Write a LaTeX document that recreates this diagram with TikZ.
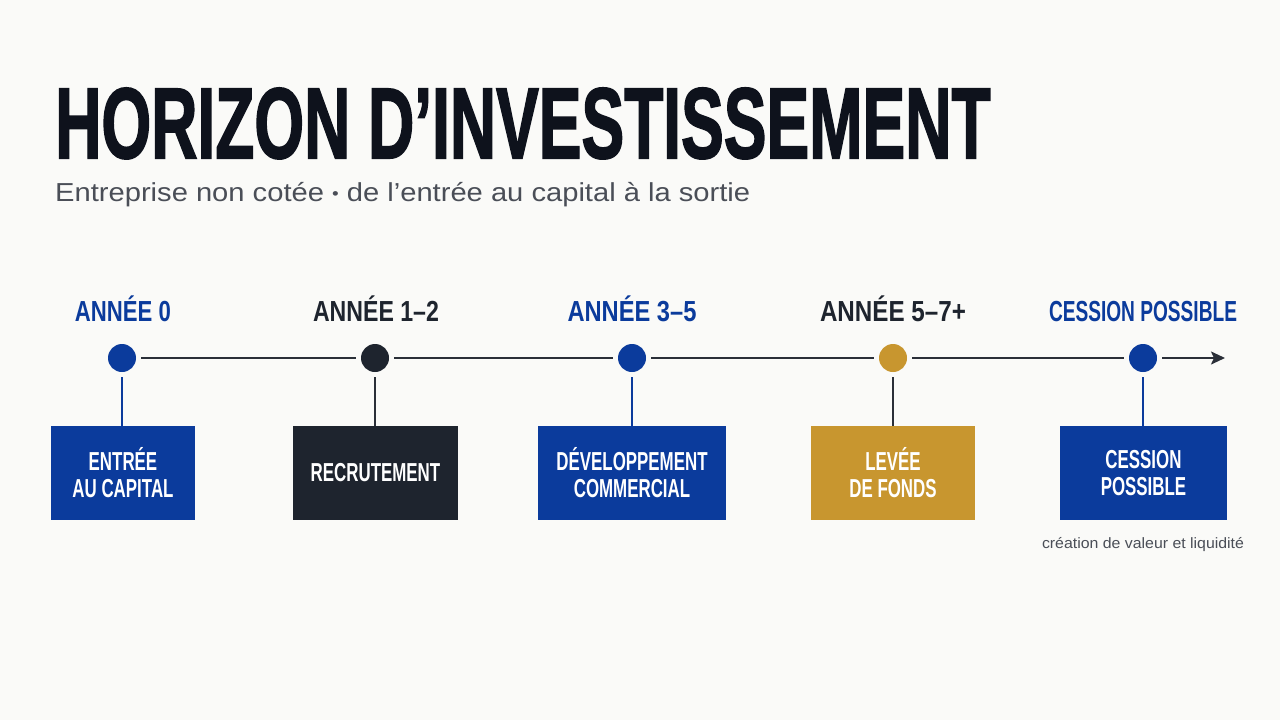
\documentclass[tikz,border=0pt]{standalone}
\usepackage{fontspec}
\usepackage{graphicx}
\usetikzlibrary{arrows.meta}
\setmainfont{Liberation Sans}
\newfontfamily\condfont[FakeStretch=0.65]{Liberation Sans}
\newfontfamily\titlefont[FakeBold=2]{Liberation Sans}
\definecolor{cblue}{HTML}{0B3B9C}
\definecolor{cdark}{HTML}{1E242E}
\definecolor{cgold}{HTML}{C8962F}
\definecolor{ctitle}{HTML}{0E121C}
\definecolor{csub}{HTML}{4A4E57}
\definecolor{cline}{HTML}{2A2F38}
\definecolor{cbg}{HTML}{FAFAF8}
\newcommand{\fitw}[2]{\resizebox{#1}{\height}{#2}}
\tikzset{
  yearlbl/.style={font=\bfseries\fontsize{29}{29}\selectfont, anchor=base, inner sep=0pt},
  dot/.style={circle, minimum size=28pt, inner sep=0pt},
  stepbox/.style={rectangle, minimum height=94pt, inner sep=0pt, text=white, align=center,
    font=\condfont\bfseries\fontsize{26}{27}\selectfont},
  tl/.style={draw=cline, line width=2pt, shorten <=5pt, shorten >=5pt},
  conn/.style={draw=cline, line width=2pt, shorten <=5pt},
}
\begin{document}
\begin{tikzpicture}[x=1pt,y=-1pt]
\fill[cbg] (0,0) rectangle (1280,720);
\useasboundingbox (0,0) rectangle (1280,720);

\node[anchor=base west, inner sep=0pt, text=ctitle] (title) at (55,158)
  {\resizebox{935pt}{70pt}{\titlefont\bfseries HORIZON D’INVESTISSEMENT}};
\node[anchor=base west, inner sep=0pt, text=csub] (sub) at (55,201)
  {\fitw{695pt}{\fontsize{26}{26}\selectfont Entreprise non cotée {\fontsize{17}{17}\selectfont\raisebox{1.5pt}{•}} de l’entrée au capital à la sortie}};

% year labels
\node[yearlbl, text=cblue] (y1) at (123,321) {\fitw{96pt}{ANNÉE 0}};
\node[yearlbl, text=cdark] (y2) at (376,321) {\fitw{126pt}{ANNÉE 1–2}};
\node[yearlbl, text=cblue] (y3) at (632,321) {\fitw{129pt}{ANNÉE 3–5}};
\node[yearlbl, text=cdark] (y4) at (893,321) {\fitw{146pt}{ANNÉE 5–7+}};
\node[yearlbl, text=cblue] (y5) at (1143,321) {\fitw{188pt}{CESSION POSSIBLE}};

% dots
\node[dot, fill=cblue] (d1) at (122,358) {};
\node[dot, fill=cdark] (d2) at (375,358) {};
\node[dot, fill=cblue] (d3) at (632,358) {};
\node[dot, fill=cgold] (d4) at (893,358) {};
\node[dot, fill=cblue] (d5) at (1143,358) {};
\coordinate (tip) at (1225,358);

\draw[tl] (d1) -- (d2);
\draw[tl] (d2) -- (d3);
\draw[tl] (d3) -- (d4);
\draw[tl] (d4) -- (d5);
\draw[tl, shorten >=0pt, -{Stealth[length=14pt,width=13pt,inset=3pt]}] (d5) -- (tip);

% boxes
\node[stepbox, fill=cblue, minimum width=144pt] (b1) at (123,473) {ENTRÉE\\AU CAPITAL};
\node[stepbox, fill=cdark, minimum width=165pt] (b2) at (375.5,473) {RECRUTEMENT};
\node[stepbox, fill=cblue, minimum width=188pt] (b3) at (632,473) {DÉVELOPPEMENT\\COMMERCIAL};
\node[stepbox, fill=cgold, minimum width=164pt] (b4) at (893,473) {LEVÉE\\DE FONDS};
\node[stepbox, fill=cblue, minimum width=167pt] (b5) at (1143.5,473) {CESSION\\POSSIBLE};

\draw[conn, draw=cblue] (d1) -- (d1 |- b1.north);
\draw[conn] (d2) -- (d2 |- b2.north);
\draw[conn, draw=cblue] (d3) -- (d3 |- b3.north);
\draw[conn] (d4) -- (d4 |- b4.north);
\draw[conn, draw=cblue] (d5) -- (d5 |- b5.north);

\node[anchor=base, inner sep=0pt, text=csub] (cap) at (1143,548)
  {\fitw{202pt}{\fontsize{15}{15}\selectfont création de valeur et liquidité}};
\end{tikzpicture}
\end{document}
